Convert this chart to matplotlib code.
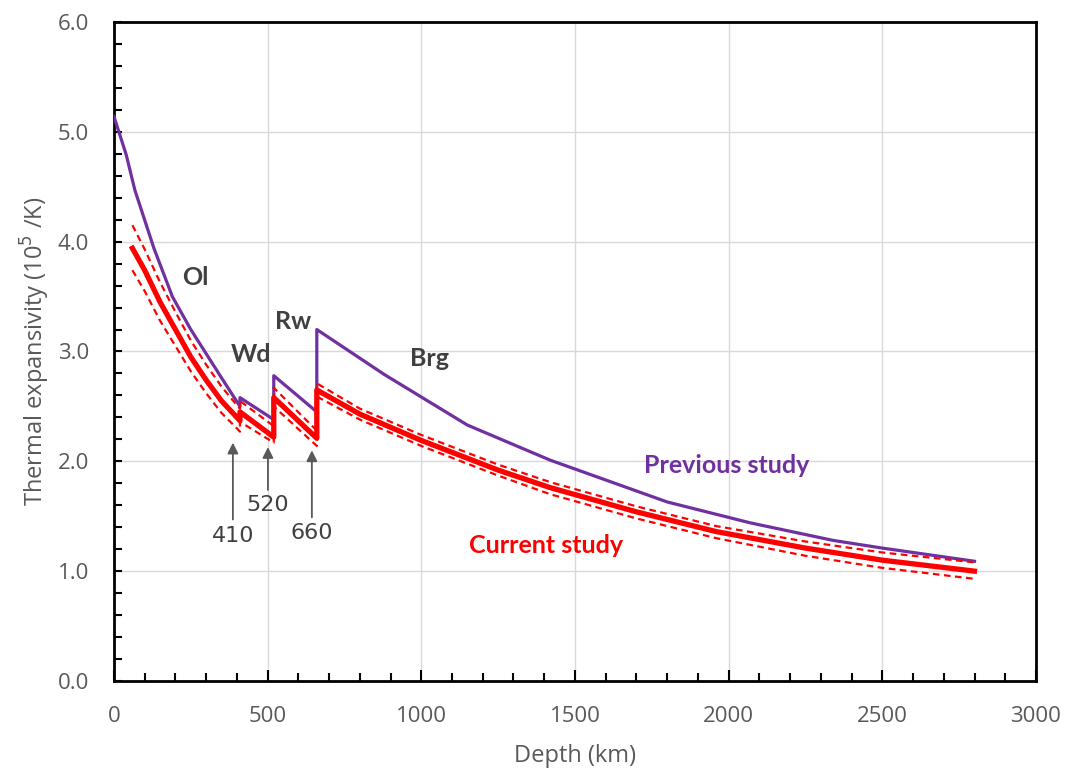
import matplotlib
matplotlib.use('Agg')
import matplotlib.pyplot as plt
from matplotlib.ticker import MultipleLocator

# previous study (purple)
prev_depth = [0, 40, 68, 130, 190, 250, 350, 410, 410, 520, 520, 660, 660,
              880, 1150, 1420, 1800, 2070, 2340, 2500, 2800]
prev_alpha = [5.14, 4.79, 4.47, 3.94, 3.50, 3.20, 2.76, 2.50, 2.58, 2.38, 2.78,
              2.45, 3.20, 2.79, 2.33, 2.01, 1.63, 1.44, 1.28, 1.21, 1.09]

# current study (red) with upper / lower bounds
cur_depth = [60, 100, 150, 200, 250, 300, 350, 400, 410, 410, 520, 520, 660, 660,
             800, 1000, 1250, 1420, 1700, 1960, 2250, 2500, 2800]
cur_alpha = [3.94, 3.74, 3.45, 3.20, 2.95, 2.74, 2.55, 2.40, 2.37, 2.45, 2.22,
             2.58, 2.21, 2.65, 2.43, 2.19, 1.92, 1.76, 1.54, 1.36, 1.21, 1.10, 1.00]
cur_upper = [4.15, 3.93, 3.63, 3.36, 3.10, 2.88, 2.68, 2.51, 2.48, 2.55, 2.32,
             2.67, 2.28, 2.71, 2.48, 2.24, 1.97, 1.81, 1.59, 1.41, 1.27, 1.17, 1.08]
cur_lower = [3.74, 3.55, 3.28, 3.05, 2.82, 2.62, 2.44, 2.30, 2.27, 2.36, 2.17,
             2.50, 2.14, 2.59, 2.38, 2.14, 1.87, 1.70, 1.48, 1.30, 1.14, 1.03, 0.93]

# phase labels
phase_names = ['Ol', 'Wd', 'Rw', 'Brg']
phase_x = [264, 446, 582, 1028]
phase_y = [3.67, 2.97, 3.27, 2.94]

# transition arrows
trans_labels = ['410', '520', '660']
trans_x = [387, 501, 644]
trans_tip = [2.17, 2.13, 2.10]
trans_tail = [1.47, 1.74, 1.49]
trans_text_y = [1.32, 1.60, 1.35]

plt.rcParams['font.family'] = ['Open Sans', 'DejaVu Sans']

fig = plt.figure(figsize=(10.69, 7.72), dpi=100)
ax = fig.add_axes([0.1066, 0.1179, 0.8625, 0.8536])

purple = '#7030A0'
red = '#FF0000'

ax.plot(prev_depth, prev_alpha, color=purple, lw=2.3, zorder=3)
ax.plot(cur_depth, cur_upper, color=red, lw=1.6, ls=(0, (3, 2)), zorder=4)
ax.plot(cur_depth, cur_lower, color=red, lw=1.6, ls=(0, (3, 2)), zorder=4)
ax.plot(cur_depth, cur_alpha, color=red, lw=3.8, zorder=5)

for name, x, y in zip(phase_names, phase_x, phase_y):
    ax.text(x, y, name, fontsize=18, fontweight='bold', color='#404040',
            ha='center', va='center', family='Lato')

ax.text(1995, 1.96, 'Previous study', fontsize=18, fontweight='bold',
        color=purple, ha='center', va='center', family='Lato')
ax.text(1406, 1.23, 'Current study', fontsize=18, fontweight='bold',
        color=red, ha='center', va='center', family='Lato')

for lab, x, tip, tail, ty in zip(trans_labels, trans_x, trans_tip, trans_tail, trans_text_y):
    ax.annotate('', xy=(x, tip), xytext=(x, tail),
                arrowprops=dict(arrowstyle='-|>', color='#595959', lw=1.3,
                                mutation_scale=16, shrinkA=0, shrinkB=0))
    ax.text(x, ty, lab, fontsize=16, color='#404040', ha='center', va='center',
            family='DejaVu Sans')

ax.set_xlim(0, 3000)
ax.set_ylim(0, 6)
ax.xaxis.set_major_locator(MultipleLocator(500))
ax.xaxis.set_minor_locator(MultipleLocator(100))
ax.yaxis.set_major_locator(MultipleLocator(1))
ax.yaxis.set_minor_locator(MultipleLocator(0.2))
ax.yaxis.set_major_formatter(plt.FormatStrFormatter('%.1f'))

ax.grid(True, which='major', color='#d9d9d9', lw=1.0, zorder=0)
ax.set_axisbelow(True)

ax.tick_params(axis='both', which='both', direction='in', colors='black',
               labelcolor='#595959', labelsize=16, width=1.5)
ax.tick_params(axis='x', which='major', length=8, pad=18)
ax.tick_params(axis='x', which='minor', length=6)
ax.tick_params(axis='y', which='both', length=6, pad=18)
ax.tick_params(axis='x', top=False)
ax.tick_params(axis='y', right=False)

for sp in ax.spines.values():
    sp.set_linewidth(2)
    sp.set_color('black')

ax.set_xlabel('Depth (km)', fontsize=17, color='#595959', labelpad=12)
ax.set_ylabel('Thermal expansivity (10$^5$ /K)', fontsize=17, color='#595959',
              labelpad=4)

fig.savefig('out.png', dpi=100)
